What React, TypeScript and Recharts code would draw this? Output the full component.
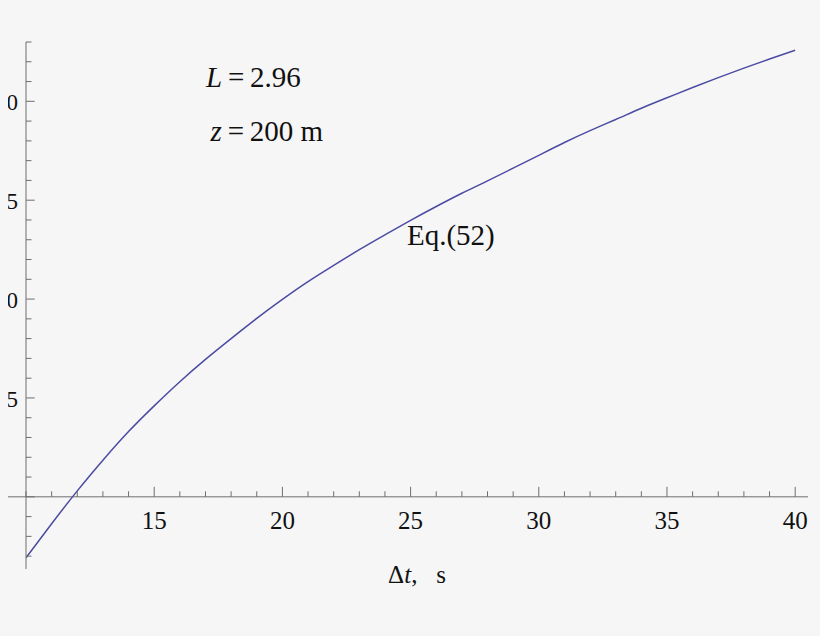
import React from 'react';
import { LineChart, Line, XAxis, YAxis, ReferenceLine, ReferenceDot } from 'recharts';

// Δt (s) and the curve of Eq.(52)
const DT_VALUES = [
  10, 11, 12, 13, 14, 15, 16, 17, 18, 19, 20, 21, 22, 23, 24, 25,
  26, 27, 28, 29, 30, 31, 32, 33, 34, 35, 36, 37, 38, 39, 40,
];
const EQ52_VALUES = [
  -3.08, -1.36, 0.3, 1.85, 3.3, 4.6, 5.82, 6.95, 8.0, 9.02, 9.98, 10.88, 11.7, 12.5, 13.25, 13.98,
  14.68, 15.35, 15.98, 16.62, 17.27, 17.92, 18.52, 19.08, 19.65, 20.18, 20.7, 21.2, 21.68, 22.14, 22.58,
];

const X_TICKS = [
  10, 11, 12, 13, 14, 15, 16, 17, 18, 19, 20, 21, 22, 23, 24, 25,
  26, 27, 28, 29, 30, 31, 32, 33, 34, 35, 36, 37, 38, 39, 40,
];
const X_LABELED = [15, 20, 25, 30, 35, 40];
const Y_TICKS = [
  -3, -2, -1, 0, 1, 2, 3, 4, 5, 6, 7, 8, 9, 10, 11, 12, 13,
  14, 15, 16, 17, 18, 19, 20, 21, 22, 23,
];
const Y_LABELED = [5, 10, 15, 20];

const X_DOMAIN: [number, number] = [10, 40.5];
const Y_DOMAIN: [number, number] = [-3.65, 23];

const PAGE_W = 820;
const PAGE_H = 636;
// the original figure is cropped a few pixels left of the y axis
const CROP_LEFT = 8;
const W = PAGE_W - CROP_LEFT;
const H = PAGE_H;
const MARGIN = { top: 42, right: 12, bottom: 0, left: 0 };
const Y_AXIS_W = 18;
const X_AXIS_H = 67;
const PLOT_H = H - MARGIN.top - MARGIN.bottom - X_AXIS_H;
// distance from the bottom of the plot up to y = 0, where the Δt axis sits
const ZERO_OFFSET = (PLOT_H * (0 - Y_DOMAIN[0])) / (Y_DOMAIN[1] - Y_DOMAIN[0]);

const FONT = '"Liberation Serif", "Times New Roman", serif';
const AXIS = '#6e6e6e';
const CURVE = '#4b4ba3';

const data = DT_VALUES.map((dt, i) => ({ dt, value: EQ52_VALUES[i] }));

function XTick(props: any) {
  const { x, y, payload } = props;
  const major = X_LABELED.includes(payload.value);
  const y0 = y - ZERO_OFFSET;
  return (
    <g>
      <line x1={x} x2={x} y1={y0} y2={y0 - (major ? 10 : 5.5)} stroke={AXIS} strokeWidth={1} />
      {major && (
        <text x={x} y={y0 + 32} textAnchor="middle" fontFamily={FONT} fontSize={25} fill="#111">
          {payload.value}
        </text>
      )}
    </g>
  );
}

function YTick(props: any) {
  const { x, y, payload } = props;
  const major = Y_LABELED.includes(payload.value) || payload.value === 0;
  return (
    <g>
      <line x1={x} x2={x + (major ? 8.7 : 5.5)} y1={y} y2={y} stroke={AXIS} strokeWidth={1} />
      {Y_LABELED.includes(payload.value) && (
        <text x={x - 8} y={y + 9} textAnchor="end" fontFamily={FONT} fontSize={23} fill="#111">
          {payload.value}
        </text>
      )}
    </g>
  );
}

const note = (content: React.ReactNode) => (props: any) => {
  const { x, y } = props.viewBox;
  return (
    <text x={x} y={y} fontFamily={FONT} fontSize={29} fill="#111">
      {content}
    </text>
  );
};

const axisTitle = (props: any) => {
  const { x, y, width } = props.viewBox;
  return (
    <text x={x + width / 2} y={y + 14} textAnchor="middle" fontFamily={FONT} fontSize={25} fill="#111">
      Δ<tspan fontStyle="italic">t</tspan>
      {',\u00a0\u00a0\u00a0s'}
    </text>
  );
};

export default function App() {
  return (
    <div style={{ position: 'absolute', left: 0, top: 0, width: PAGE_W, height: PAGE_H, background: '#f6f6f6' }}>
      <div style={{ position: 'absolute', left: CROP_LEFT, top: 0, width: W, height: H, overflow: 'hidden' }}>
        <LineChart width={W} height={H} data={data} margin={MARGIN}>
          <XAxis
            dataKey="dt"
            type="number"
            domain={X_DOMAIN}
            ticks={X_TICKS}
            interval={0}
            allowDataOverflow
            height={X_AXIS_H}
            axisLine={false}
            tickLine={false}
            tickSize={0}
            tickMargin={0}
            tick={XTick}
            label={axisTitle}
          />
          <YAxis
            type="number"
            domain={Y_DOMAIN}
            ticks={Y_TICKS}
            interval={0}
            allowDataOverflow
            width={Y_AXIS_W}
            axisLine={{ stroke: AXIS, strokeWidth: 1 }}
            tickLine={false}
            tickSize={0}
            tickMargin={0}
            tick={YTick}
          />
          <ReferenceLine
            segment={[{ x: 9.3, y: 0 }, { x: 40.5, y: 0 }]}
            ifOverflow="visible"
            stroke={AXIS}
            strokeWidth={1}
          />
          <Line
            type="natural"
            dataKey="value"
            stroke={CURVE}
            strokeWidth={1.5}
            dot={false}
            isAnimationActive={false}
          />
          <ReferenceDot
            x={17.02}
            y={20.72}
            r={0}
            stroke="none"
            fill="none"
            label={note(
              <>
                <tspan fontStyle="italic">L</tspan>
                {'\u2009=\u20092.96'}
              </>,
            )}
          />
          <ReferenceDot
            x={17.2}
            y={18.0}
            r={0}
            stroke="none"
            fill="none"
            label={note(
              <>
                <tspan fontStyle="italic">z</tspan>
                {'\u2009=\u2009200 m'}
              </>,
            )}
          />
          <ReferenceDot x={24.86} y={12.73} r={0} stroke="none" fill="none" label={note('Eq.(52)')} />
        </LineChart>
      </div>
    </div>
  );
}
